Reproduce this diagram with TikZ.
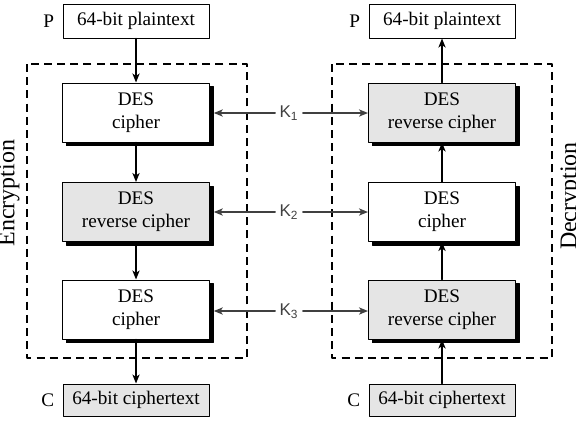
\documentclass[tikz,border=0pt]{standalone}
\usepackage{fontspec}
\setmainfont{Liberation Serif}
\newfontfamily\keyfont{Liberation Sans}
\usetikzlibrary{arrows.meta,positioning}

\definecolor{boxgray}{gray}{0.90}
\definecolor{keygray}{gray}{0.25}

\begin{document}
\begin{tikzpicture}[x=0.5pt, y=-0.5pt, line cap=round, line join=round,
        font=\fontsize{9.6}{11.5}\selectfont,
        block/.style={draw, line width=0.5pt, fill=white, align=center, inner sep=0pt,
            minimum width=73.5pt, minimum height=29.5pt},
        revblock/.style={block, fill=boxgray},
        shadowbox/.style={fill=black, draw=black, inner sep=0pt,
            minimum width=73.5pt, minimum height=29.5pt},
        textbox/.style={draw, line width=0.5pt, fill=white, inner sep=0pt,
            minimum width=73pt, minimum height=17pt},
        cipherbox/.style={textbox, fill=boxgray, minimum height=16pt},
        tag/.style={inner sep=0pt},
        side/.style={rotate=90, font=\fontsize{12}{14}\selectfont},
        flow/.style={line width=0.75pt, -{Stealth[length=4.5pt, width=3.6pt, inset=1.2pt]}},
        keyline/.style={flow, draw=keygray},
        keylabel/.style={inner sep=2pt, text=keygray, font=\keyfont\fontsize{8.5}{10}\selectfont},
        frame/.style={line width=0.8pt, line cap=butt, dash pattern=on 4pt off 2.6pt}]

    \useasboundingbox (0,0) rectangle (576,424);

    % black shadows, laid down first so the blocks cover them
    \foreach \cx/\cy [count=\i] in {136/112.5, 136/212, 136/309.5, 442/112.5, 442/212, 442/309.5}
        \node[shadowbox] (sh\i) at (\cx+3.8, \cy+3.8) {};

    % encryption side
    \draw[frame] (27,64) rectangle (247,358);
    \node[textbox] (lp) at (136,21) {64-bit plaintext};
    \node[block] (e1) at (136,112.5) {DES\\cipher};
    \node[revblock] (e2) at (136,212) {DES\\reverse cipher};
    \node[block] (e3) at (136,309.5) {DES\\cipher};
    \node[cipherbox] (lc) at (136,400) {64-bit ciphertext};
    \node[tag, left=4pt of lp] (lpP) {P};
    \node[tag, left=4pt of lc] (lcC) {C};
    \node[side] (enc) at (9,193) {Encryption};

    % decryption side
    \draw[frame] (332,64) rectangle (552,358);
    \node[textbox] (rp) at (442,21) {64-bit plaintext};
    \node[revblock] (d1) at (442,112.5) {DES\\reverse cipher};
    \node[block] (d2) at (442,212) {DES\\cipher};
    \node[revblock] (d3) at (442,309.5) {DES\\reverse cipher};
    \node[cipherbox] (rc) at (442,400) {64-bit ciphertext};
    \node[tag, left=4pt of rp] (rpP) {P};
    \node[tag, left=4pt of rc] (rcC) {C};
    \node[side] (dec) at (571,196) {Decryption};

    \draw[flow] (lp) -- (e1);
    \draw[flow] (e1) -- (e2);
    \draw[flow] (e2) -- (e3);
    \draw[flow] (e3) -- (lc);

    \draw[flow] (rc) -- (d3);
    \draw[flow] (d3) -- (d2);
    \draw[flow] (d2) -- (d1);
    \draw[flow] (d1) -- (rp);

    % keys shared by both sides
    \node[keylabel] (k1) at (289,113) {K\textsubscript{1}};
    \node[keylabel] (k2) at (289,212) {K\textsubscript{2}};
    \node[keylabel] (k3) at (289,311) {K\textsubscript{3}};

    \draw[keyline] (k1) -- ([xshift=1.9pt]e1.east |- k1);
    \draw[keyline] (k1) -- (d1.west |- k1);
    \draw[keyline] (k2) -- ([xshift=1.9pt]e2.east |- k2);
    \draw[keyline] (k2) -- (d2.west |- k2);
    \draw[keyline] (k3) -- ([xshift=1.9pt]e3.east |- k3);
    \draw[keyline] (k3) -- (d3.west |- k3);

\end{tikzpicture}
\end{document}
